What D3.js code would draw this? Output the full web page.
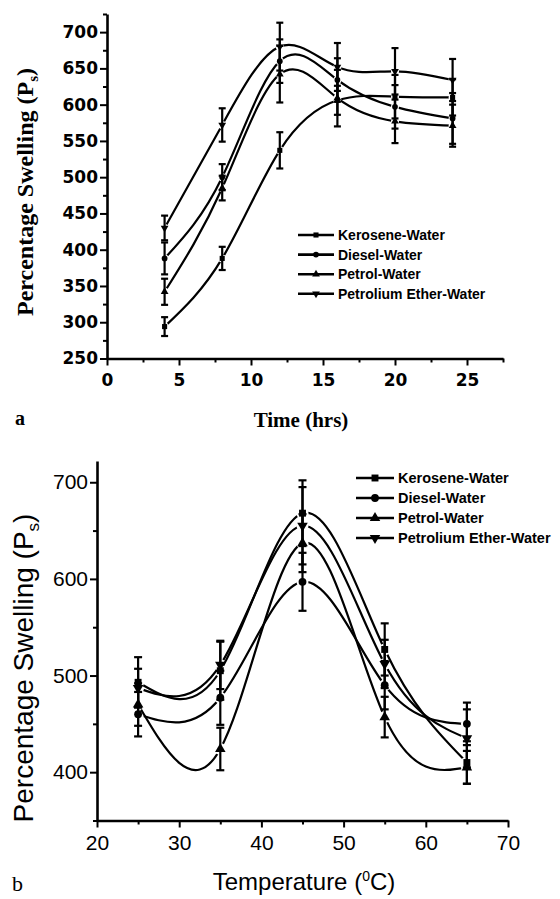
<!DOCTYPE html>
<html>
<head>
<meta charset="utf-8">
<script src="https://cdn.jsdelivr.net/npm/d3@7"></script>
<style>
  body { margin: 0; background: #fff; }
</style>
</head>
<body>
<svg id="chart"></svg>
<script>
// series order is the legend order
const seriesNames = ["Kerosene-Water", "Diesel-Water", "Petrol-Water", "Petrolium Ether-Water"];

// panel a : swelling vs time
const timeHrs = [4, 8, 12, 16, 20, 24];
const timeKerosene = [294, 388, 537, 606, 611, 610];
const timeDiesel   = [388, 500, 660, 634, 597, 581];
const timePetrol   = [342, 485, 642, 609, 577, 571];
const timeEther    = [430, 572, 680, 652, 646, 634];
const timeKeroseneErr = [13, 16, 25, 20, 30, 25];
const timeDieselErr   = [22, 18, 30, 30, 30, 35];
const timePetrolErr   = [18, 17, 39, 39, 30, 29];
const timeEtherErr    = [17, 23, 33, 33, 32, 29];
const timeTicks = [0, 5, 10, 15, 20, 25];
const timeMinorTicks = [2.5, 7.5, 12.5, 17.5, 22.5, 27.5];
const timeSwellTicks = [250, 300, 350, 400, 450, 500, 550, 600, 650, 700];
const timeSwellMinor = [275, 325, 375, 425, 475, 525, 575, 625, 675, 725];

// panel b : swelling vs temperature
const tempC = [25, 35, 45, 55, 65];
const tempKerosene = [493, 505, 668, 527, 410];
const tempDiesel   = [460, 477, 597, 490, 450];
const tempPetrol   = [470, 424, 637, 457, 405];
const tempEther    = [487, 511, 655, 512, 435];
const tempKeroseneErr = [26, 30, 34, 27, 22];
const tempDieselErr   = [23, 28, 30, 25, 22];
const tempPetrolErr   = [22, 22, 30, 21, 17];
const tempEtherErr    = [20, 25, 40, 25, 30];
const tempTicks = [20, 30, 40, 50, 60, 70];
const tempMinorTicks = [25, 35, 45, 55, 65];
const tempSwellTicks = [400, 500, 600, 700];
const tempSwellMinor = [350, 450, 550, 650];

const W = 560, H = 899;
const svg = d3.select("#chart").attr("width", W).attr("height", H);
svg.append("rect").attr("width", W).attr("height", H).attr("fill", "#fff");
const defs = svg.append("defs");

const symbols = [
    { type: d3.symbolSquare, rot: 0 },
    { type: d3.symbolCircle, rot: 0 },
    { type: d3.symbolTriangle, rot: 0 },
    { type: d3.symbolTriangle, rot: 180 }
];

function drawPanel(p) {
    const g = svg.append("g");
    const x = p.x, y = p.y;

    // axes
    const xAxis = g.append("g")
        .attr("transform", `translate(0,${y.range()[0]})`)
        .call(d3.axisBottom(x).tickValues(p.xTicks).tickSize(7).tickSizeOuter(0).tickPadding(p.xPad));
    g.append("g")
        .attr("transform", `translate(0,${y.range()[0]})`)
        .call(d3.axisBottom(x).tickValues(p.xMinor).tickSize(4).tickFormat(""))
        .call(a => a.select(".domain").remove());
    const yAxis = g.append("g")
        .attr("transform", `translate(${x.range()[0]},0)`)
        .call(d3.axisLeft(y).tickValues(p.yTicks).tickSize(7).tickSizeOuter(0).tickPadding(p.yPad));
    g.append("g")
        .attr("transform", `translate(${x.range()[0]},0)`)
        .call(d3.axisLeft(y).tickValues(p.yMinor).tickSize(4).tickFormat(""))
        .call(a => a.select(".domain").remove());

    g.selectAll(".domain").attr("stroke", "#000").attr("stroke-width", 2.6);
    g.selectAll(".tick line").attr("stroke", "#000").attr("stroke-width", 2);
    [xAxis, yAxis].forEach(a => a.selectAll("text")
        .attr("fill", "#000")
        .attr("font-family", p.tickFont)
        .attr("font-weight", p.tickWeight)
        .attr("font-size", p.tickSize));

    // curves with small gaps around every point
    const line = d3.line().curve(d3.curveNatural);
    p.series.forEach((s, i) => {
        const pts = p.xs.map((d, j) => [x(d), y(s.values[j])]);
        const id = `${p.id}-mask-${i}`;
        const m = defs.append("mask").attr("id", id)
            .attr("maskUnits", "userSpaceOnUse")
            .attr("x", 0).attr("y", 0).attr("width", W).attr("height", H);
        m.append("rect").attr("width", W).attr("height", H).attr("fill", "#fff");
        m.selectAll("circle").data(pts).join("circle")
            .attr("cx", d => d[0]).attr("cy", d => d[1]).attr("r", p.gap).attr("fill", "#000");
        g.append("path")
            .attr("d", line(pts))
            .attr("fill", "none")
            .attr("stroke", "#000")
            .attr("stroke-width", 2.2)
            .attr("mask", `url(#${id})`);
    });

    // error bars + symbols
    p.series.forEach((s, i) => {
        const eg = g.append("g");
        p.xs.forEach((d, j) => {
            const cx = x(d);
            const y1 = y(s.values[j] - s.err[j]), y2 = y(s.values[j] + s.err[j]);
            eg.append("line").attr("x1", cx).attr("x2", cx).attr("y1", y1).attr("y2", y2)
                .attr("stroke", "#000").attr("stroke-width", 2.2);
            [y1, y2].forEach(yy => eg.append("line")
                .attr("x1", cx - p.cap).attr("x2", cx + p.cap).attr("y1", yy).attr("y2", yy)
                .attr("stroke", "#000").attr("stroke-width", 2.2));
        });
        eg.selectAll("path").data(p.xs).join("path")
            .attr("d", d3.symbol().type(symbols[i].type).size(p.symSize))
            .attr("transform", (d, j) => `translate(${x(d)},${y(s.values[j])}) rotate(${symbols[i].rot})`)
            .attr("fill", "#000");
    });

    // legend
    const lg = g.append("g").attr("transform", `translate(${p.legend.x},${p.legend.y})`);
    seriesNames.forEach((name, i) => {
        const row = lg.append("g").attr("transform", `translate(0,${i * p.legend.step})`);
        row.append("line").attr("x1", 0).attr("x2", p.legend.len).attr("y1", 0).attr("y2", 0)
            .attr("stroke", "#000").attr("stroke-width", 2.6);
        row.append("path")
            .attr("d", d3.symbol().type(symbols[i].type).size(p.symSize))
            .attr("transform", `translate(${p.legend.len / 2},0) rotate(${symbols[i].rot})`)
            .attr("fill", "#000");
        row.append("text")
            .attr("x", p.legend.len + 4).attr("y", 0).attr("dy", "0.36em")
            .attr("font-family", "Liberation Sans, Arial, sans-serif")
            .attr("font-weight", "bold")
            .attr("font-size", p.legend.size)
            .text(name);
    });
    return g;
}

// ---- panel a ----
const xA = d3.scaleLinear().domain([0, 27.5]).range([107, 503]);
const yA = d3.scaleLinear().domain([250, 725]).range([358.5, 14]);
const gA = drawPanel({
    id: "a", x: xA, y: yA, xs: timeHrs,
    series: [
        { values: timeKerosene, err: timeKeroseneErr },
        { values: timeDiesel, err: timeDieselErr },
        { values: timePetrol, err: timePetrolErr },
        { values: timeEther, err: timeEtherErr }
    ],
    xTicks: timeTicks, xMinor: timeMinorTicks, yTicks: timeSwellTicks, yMinor: timeSwellMinor,
    xPad: 8, yPad: 2,
    tickFont: "DejaVu Sans, sans-serif", tickWeight: "bold", tickSize: 17,
    gap: 4, cap: 3.5, symSize: 26,
    legend: { x: 298, y: 235, step: 19.6, len: 36, size: 14 }
});
gA.append("text")
    .attr("x", 301).attr("y", 427)
    .attr("text-anchor", "middle")
    .attr("font-family", "Liberation Serif, Times New Roman, serif")
    .attr("font-weight", "bold").attr("font-size", 21)
    .text("Time (hrs)");
gA.append("text")
    .attr("x", 15).attr("y", 425)
    .attr("font-family", "Liberation Serif, Times New Roman, serif")
    .attr("font-weight", "bold").attr("font-size", 20)
    .text("a");
const tA = gA.append("text")
    .attr("transform", "translate(33,192) rotate(-90)")
    .attr("text-anchor", "middle")
    .attr("font-family", "Liberation Serif, Times New Roman, serif")
    .attr("font-weight", "bold").attr("font-size", 24);
tA.append("tspan").text("Percentage Swelling (P");
tA.append("tspan").attr("dy", 5).attr("font-size", 15).text("s");
tA.append("tspan").attr("dy", -5).text(")");

// ---- panel b ----
const xB = d3.scaleLinear().domain([20, 70]).range([97, 508]);
const yB = d3.scaleLinear().domain([350, 722]).range([820.5, 461]);
const gB = drawPanel({
    id: "b", x: xB, y: yB, xs: tempC,
    series: [
        { values: tempKerosene, err: tempKeroseneErr },
        { values: tempDiesel, err: tempDieselErr },
        { values: tempPetrol, err: tempPetrolErr },
        { values: tempEther, err: tempEtherErr }
    ],
    xTicks: tempTicks, xMinor: tempMinorTicks, yTicks: tempSwellTicks, yMinor: tempSwellMinor,
    xPad: 8, yPad: 2,
    tickFont: "Liberation Sans, Arial, sans-serif", tickWeight: "normal", tickSize: 21,
    gap: 6, cap: 4, symSize: 48,
    legend: { x: 356, y: 478, step: 20, len: 38, size: 14.5 }
});
const xt = gB.append("text")
    .attr("x", 304).attr("y", 890)
    .attr("text-anchor", "middle")
    .attr("font-family", "Liberation Sans, Arial, sans-serif")
    .attr("font-size", 24);
xt.append("tspan").text("Temperature (");
xt.append("tspan").attr("dy", -9).attr("font-size", 14).text("0");
xt.append("tspan").attr("dy", 9).text("C)");
gB.append("text")
    .attr("x", 12).attr("y", 891)
    .attr("font-family", "Liberation Serif, Times New Roman, serif")
    .attr("font-size", 22)
    .text("b");
const tB = gB.append("text")
    .attr("transform", "translate(33,668) rotate(-90)")
    .attr("text-anchor", "middle")
    .attr("font-family", "Liberation Sans, Arial, sans-serif")
    .attr("font-size", 28);
tB.append("tspan").text("Percentage Swelling (P");
tB.append("tspan").attr("dy", 6).attr("font-size", 17).text("s");
tB.append("tspan").attr("dy", -6).text(")");
</script>
</body>
</html>
